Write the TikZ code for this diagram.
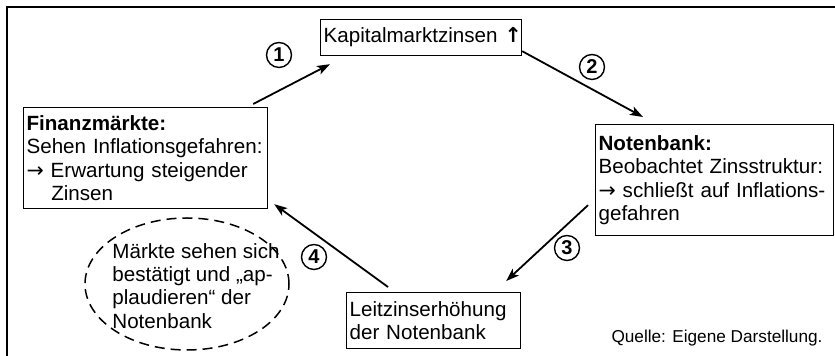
\documentclass[tikz,border=0pt]{standalone}
\usepackage{fontspec}
\setmainfont{Liberation Sans}
\newfontfamily\pfeilfont{DejaVu Sans}
\usepackage{tikz}
\usetikzlibrary{arrows.meta}

\begin{document}
\begin{tikzpicture}[x=0.5pt, y=-0.5pt,
    kasten/.style={draw, line width=0.6pt, anchor=north west, inner xsep=1.5pt, inner ysep=2pt, align=left, font=\fontsize{10.3}{11.6}\selectfont},
    nummer/.style={draw, circle, line width=0.7pt, minimum size=12.5pt, inner sep=0pt, font=\fontsize{10}{10}\selectfont\bfseries},
    pfeil/.style={-{Stealth[length=6.5pt, width=4.6pt, inset=1.6pt]}, line width=0.9pt}]
    \useasboundingbox (0,0) rectangle (835,356);
    % Rahmen (nur links und oben sichtbar)
    \draw[line width=0.9pt] (7,356) -- (7,7) -- (835,7);
    \node[kasten, text width=97.5pt, minimum height=18pt] (kap) at (320,19) {\mbox{Kapitalmarktzinsen {\pfeilfont\bfseries ↑}}};
    \node[kasten, text width=119pt, minimum height=50.5pt] (fin) at (23,107) {\textbf{Finanzmärkte:}\\Sehen Inflationsgefahren:\\{\pfeilfont →} Erwartung steigender\\\hspace*{1.2em}Zinsen};
    \node[kasten, text width=116pt, minimum height=55.5pt] (not) at (595,124) {\textbf{Notenbank:}\\Beobachtet Zinsstruktur:\\\mbox{{\pfeilfont →} schließt auf Inflations-}\\gefahren};
    \node[kasten, text width=84pt, minimum height=28pt] (lei) at (346,292) {Leitzinserhöhung\\der Notenbank};
    % Kreislauf
    \draw[pfeil] ([shift={(-15,-3)}]fin.north east) -- ([shift={(10,8)}]kap.south west);
    \draw[pfeil] ([shift={(0,-5)}]kap.south east) -- ([shift={(48,-7)}]not.north west);
    \draw[pfeil] ([shift={(-7,-31)}]not.south west) -- ([shift={(-15,-11)}]lei.north east);
    \draw[pfeil] ([shift={(42,-5)}]lei.north west) -- ([shift={(6,-5)}]fin.south east);
    \node[nummer] (n1) at (279,55) {1};
    \node[nummer] (n2) at (592,67) {2};
    \node[nummer] (n3) at (567,248) {3};
    \node[nummer] (n4) at (314,257) {4};
    % gestrichelte Ellipse
    \node[align=left, inner sep=0pt, font=\fontsize{10.3}{11.6}\selectfont] (applaus) at (196,286) {Märkte sehen sich\\bestätigt und „ap-\\plaudieren“ der\\Notenbank};
    \draw[dash pattern=on 5pt off 3pt, line width=0.75pt] ([shift={(-9,-2)}]applaus.center) ellipse [x radius=51pt, y radius=33pt];
    \node[font=\fontsize{8.6}{10}\selectfont] (quelle) at (717,338) {Quelle: Eigene Darstellung.};
\end{tikzpicture}
\end{document}
